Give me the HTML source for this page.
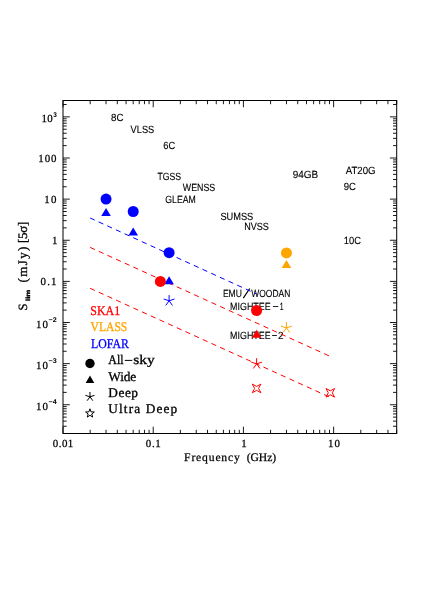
<!DOCTYPE html><html><head><meta charset="utf-8"><title>plot</title><style>html,body{margin:0;padding:0;background:#fff}svg{display:block;will-change:transform;text-rendering:geometricPrecision}text{font-family:"Liberation Sans",sans-serif}.s{font-family:"Liberation Serif",serif}</style></head><body>
<svg width="432" height="611" viewBox="0 0 432 611">
<rect width="432" height="611" fill="#fff"/>
<path d="M63.00 433.50v-6.8M63.00 100.50v6.8M90.16 433.50v-3.7M90.16 100.50v3.7M106.04 433.50v-3.7M106.04 100.50v3.7M117.31 433.50v-3.7M117.31 100.50v3.7M126.05 433.50v-3.7M126.05 100.50v3.7M133.20 433.50v-3.7M133.20 100.50v3.7M139.24 433.50v-3.7M139.24 100.50v3.7M144.47 433.50v-3.7M144.47 100.50v3.7M149.08 433.50v-3.7M149.08 100.50v3.7M153.21 433.50v-6.8M153.21 100.50v6.8M180.37 433.50v-3.7M180.37 100.50v3.7M196.25 433.50v-3.7M196.25 100.50v3.7M207.52 433.50v-3.7M207.52 100.50v3.7M216.26 433.50v-3.7M216.26 100.50v3.7M223.41 433.50v-3.7M223.41 100.50v3.7M229.45 433.50v-3.7M229.45 100.50v3.7M234.68 433.50v-3.7M234.68 100.50v3.7M239.29 433.50v-3.7M239.29 100.50v3.7M243.42 433.50v-6.8M243.42 100.50v6.8M270.58 433.50v-3.7M270.58 100.50v3.7M286.46 433.50v-3.7M286.46 100.50v3.7M297.73 433.50v-3.7M297.73 100.50v3.7M306.47 433.50v-3.7M306.47 100.50v3.7M313.62 433.50v-3.7M313.62 100.50v3.7M319.66 433.50v-3.7M319.66 100.50v3.7M324.89 433.50v-3.7M324.89 100.50v3.7M329.50 433.50v-3.7M329.50 100.50v3.7M333.63 433.50v-6.8M333.63 100.50v6.8M360.79 433.50v-3.7M360.79 100.50v3.7M376.67 433.50v-3.7M376.67 100.50v3.7M387.94 433.50v-3.7M387.94 100.50v3.7M396.68 433.50v-3.7M396.68 100.50v3.7M63.00 433.50h3.7M396.70 433.50h-3.7M63.00 426.26h3.7M396.70 426.26h-3.7M63.00 421.12h3.7M396.70 421.12h-3.7M63.00 417.14h3.7M396.70 417.14h-3.7M63.00 413.88h3.7M396.70 413.88h-3.7M63.00 411.13h3.7M396.70 411.13h-3.7M63.00 408.74h3.7M396.70 408.74h-3.7M63.00 406.64h3.7M396.70 406.64h-3.7M63.00 404.76h6.8M396.70 404.76h-6.8M63.00 392.38h3.7M396.70 392.38h-3.7M63.00 385.14h3.7M396.70 385.14h-3.7M63.00 380.00h3.7M396.70 380.00h-3.7M63.00 376.01h3.7M396.70 376.01h-3.7M63.00 372.75h3.7M396.70 372.75h-3.7M63.00 370.00h3.7M396.70 370.00h-3.7M63.00 367.62h3.7M396.70 367.62h-3.7M63.00 365.51h3.7M396.70 365.51h-3.7M63.00 363.63h6.8M396.70 363.63h-6.8M63.00 351.25h3.7M396.70 351.25h-3.7M63.00 344.01h3.7M396.70 344.01h-3.7M63.00 338.87h3.7M396.70 338.87h-3.7M63.00 334.88h3.7M396.70 334.88h-3.7M63.00 331.63h3.7M396.70 331.63h-3.7M63.00 328.87h3.7M396.70 328.87h-3.7M63.00 326.49h3.7M396.70 326.49h-3.7M63.00 324.39h3.7M396.70 324.39h-3.7M63.00 322.50h6.8M396.70 322.50h-6.8M63.00 310.12h3.7M396.70 310.12h-3.7M63.00 302.88h3.7M396.70 302.88h-3.7M63.00 297.74h3.7M396.70 297.74h-3.7M63.00 293.76h3.7M396.70 293.76h-3.7M63.00 290.50h3.7M396.70 290.50h-3.7M63.00 287.75h3.7M396.70 287.75h-3.7M63.00 285.36h3.7M396.70 285.36h-3.7M63.00 283.26h3.7M396.70 283.26h-3.7M63.00 281.38h6.8M396.70 281.38h-6.8M63.00 269.00h3.7M396.70 269.00h-3.7M63.00 261.75h3.7M396.70 261.75h-3.7M63.00 256.62h3.7M396.70 256.62h-3.7M63.00 252.63h3.7M396.70 252.63h-3.7M63.00 249.37h3.7M396.70 249.37h-3.7M63.00 246.62h3.7M396.70 246.62h-3.7M63.00 244.24h3.7M396.70 244.24h-3.7M63.00 242.13h3.7M396.70 242.13h-3.7M63.00 240.25h6.8M396.70 240.25h-6.8M63.00 227.87h3.7M396.70 227.87h-3.7M63.00 220.63h3.7M396.70 220.63h-3.7M63.00 215.49h3.7M396.70 215.49h-3.7M63.00 211.50h3.7M396.70 211.50h-3.7M63.00 208.25h3.7M396.70 208.25h-3.7M63.00 205.49h3.7M396.70 205.49h-3.7M63.00 203.11h3.7M396.70 203.11h-3.7M63.00 201.00h3.7M396.70 201.00h-3.7M63.00 199.12h6.8M396.70 199.12h-6.8M63.00 186.74h3.7M396.70 186.74h-3.7M63.00 179.50h3.7M396.70 179.50h-3.7M63.00 174.36h3.7M396.70 174.36h-3.7M63.00 170.38h3.7M396.70 170.38h-3.7M63.00 167.12h3.7M396.70 167.12h-3.7M63.00 164.37h3.7M396.70 164.37h-3.7M63.00 161.98h3.7M396.70 161.98h-3.7M63.00 159.88h3.7M396.70 159.88h-3.7M63.00 158.00h6.8M396.70 158.00h-6.8M63.00 145.62h3.7M396.70 145.62h-3.7M63.00 138.37h3.7M396.70 138.37h-3.7M63.00 133.24h3.7M396.70 133.24h-3.7M63.00 129.25h3.7M396.70 129.25h-3.7M63.00 125.99h3.7M396.70 125.99h-3.7M63.00 123.24h3.7M396.70 123.24h-3.7M63.00 120.85h3.7M396.70 120.85h-3.7M63.00 118.75h3.7M396.70 118.75h-3.7M63.00 116.87h6.8M396.70 116.87h-6.8M63.00 104.49h3.7M396.70 104.49h-3.7" stroke="#000" stroke-width="0.9" fill="none"/>
<rect x="63.00" y="100.50" width="333.70" height="333.00" fill="none" stroke="#000" stroke-width="1.0"/>
<text x="111.1" y="120.5" font-size="10.4" stroke="#000" stroke-width="0.12" textLength="12.5" lengthAdjust="spacingAndGlyphs">8C</text>
<text x="130.6" y="133.0" font-size="10.4" stroke="#000" stroke-width="0.12" textLength="23.6" lengthAdjust="spacingAndGlyphs">VLSS</text>
<text x="163.3" y="149.4" font-size="10.4" stroke="#000" stroke-width="0.12" textLength="12.0" lengthAdjust="spacingAndGlyphs">6C</text>
<text x="157.5" y="180.2" font-size="10.4" stroke="#000" stroke-width="0.12" textLength="23.6" lengthAdjust="spacingAndGlyphs">TGSS</text>
<text x="182.8" y="190.7" font-size="10.4" stroke="#000" stroke-width="0.12" textLength="32.4" lengthAdjust="spacingAndGlyphs">WENSS</text>
<text x="165.3" y="203.0" font-size="10.4" stroke="#000" stroke-width="0.12" textLength="30.5" lengthAdjust="spacingAndGlyphs">GLEAM</text>
<text x="292.7" y="178.0" font-size="10.4" stroke="#000" stroke-width="0.12" textLength="25.5" lengthAdjust="spacingAndGlyphs">94GB</text>
<text x="345.7" y="174.0" font-size="10.4" stroke="#000" stroke-width="0.12" textLength="29.8" lengthAdjust="spacingAndGlyphs">AT20G</text>
<text x="343.7" y="190.3" font-size="10.4" stroke="#000" stroke-width="0.12" textLength="12.2" lengthAdjust="spacingAndGlyphs">9C</text>
<text x="343.7" y="244.2" font-size="10.4" stroke="#000" stroke-width="0.12" textLength="17.3" lengthAdjust="spacingAndGlyphs">10C</text>
<text x="220.4" y="219.8" font-size="10.4" stroke="#000" stroke-width="0.12" textLength="32.9" lengthAdjust="spacingAndGlyphs">SUMSS</text>
<text x="244.2" y="229.8" font-size="10.4" stroke="#000" stroke-width="0.12" textLength="24.6" lengthAdjust="spacingAndGlyphs">NVSS</text>
<text x="222.9" y="297.1" font-size="10.4" stroke="#000" stroke-width="0.12" textLength="19.1" lengthAdjust="spacingAndGlyphs">EMU</text>
<line x1="243.3" y1="298.2" x2="249.7" y2="288.5" stroke="#000" stroke-width="1.2"/>
<text x="251.3" y="297.1" font-size="10.4" stroke="#000" stroke-width="0.12" textLength="39.0" lengthAdjust="spacingAndGlyphs">WOODAN</text>
<text x="230.1" y="310.0" font-size="10.4" stroke="#000" stroke-width="0.12" textLength="40.5" lengthAdjust="spacingAndGlyphs">MIGHTEE</text>
<text x="272.4" y="310.0" font-size="10.4" stroke="#000" stroke-width="0.12" textLength="6.2" lengthAdjust="spacingAndGlyphs">−</text>
<text x="279.8" y="310.0" font-size="10.4" stroke="#000" stroke-width="0.12" textLength="3.8" lengthAdjust="spacingAndGlyphs">1</text>
<text x="230.1" y="338.7" font-size="10.4" stroke="#000" stroke-width="0.12" textLength="40.5" lengthAdjust="spacingAndGlyphs">MIGHTEE</text>
<text x="271.8" y="338.7" font-size="10.4" stroke="#000" stroke-width="0.12" textLength="5.6" lengthAdjust="spacingAndGlyphs">−</text>
<text x="278.0" y="338.7" font-size="10.4" stroke="#000" stroke-width="0.12" textLength="5.6" lengthAdjust="spacingAndGlyphs">2</text>
<line x1="90.1" y1="218.0" x2="256.6" y2="294.0" stroke="#0000ff" stroke-width="1" stroke-dasharray="5.2 4.32" stroke-dashoffset="0.2"/>
<line x1="90.1" y1="247.4" x2="329.3" y2="356.0" stroke="#ff0000" stroke-width="1" stroke-dasharray="5.2 4.32" stroke-dashoffset="0"/>
<line x1="90.1" y1="288.3" x2="329.0" y2="396.8" stroke="#ff0000" stroke-width="1" stroke-dasharray="5.2 4.32" stroke-dashoffset="0"/>
<circle cx="106.04" cy="199.12" r="5.5" fill="#0000ff"/>
<path d="M101.24 216.10L110.84 216.10L106.04 208.10Z" fill="#0000ff"/>
<circle cx="133.20" cy="211.50" r="5.5" fill="#0000ff"/>
<path d="M128.40 235.60L138.00 235.60L133.20 227.60Z" fill="#0000ff"/>
<circle cx="169.10" cy="252.63" r="5.5" fill="#0000ff"/>
<path d="M164.30 284.20L173.90 284.20L169.10 276.20Z" fill="#0000ff"/>
<path d="M169.10 300.80L169.10 295.10M169.10 300.80L174.52 299.04M169.10 300.80L172.45 305.41M169.10 300.80L165.74 305.41M169.10 300.80L163.67 299.04" stroke="#0000ff" stroke-width="1" fill="none"/>
<circle cx="160.35" cy="281.38" r="5.5" fill="#ff0000"/>
<circle cx="256.60" cy="310.50" r="5.5" fill="#ff0000"/>
<path d="M251.80 337.80L261.40 337.80L256.60 329.80Z" fill="#ff0000"/>
<path d="M256.60 363.90L256.60 358.20M256.60 363.90L262.02 362.14M256.60 363.90L259.95 368.51M256.60 363.90L253.25 368.51M256.60 363.90L251.18 362.14" stroke="#ff0000" stroke-width="1" fill="none"/>
<polygon points="260.92,392.71 256.60,390.40 252.29,392.71 254.60,388.40 252.29,384.09 256.60,386.40 260.92,384.09 258.60,388.40" stroke="#ff0000" stroke-width="1" fill="none"/>
<polygon points="334.61,397.11 330.30,394.80 325.99,397.11 328.30,392.80 325.99,388.49 330.30,390.80 334.61,388.49 332.30,392.80" stroke="#ff0000" stroke-width="1" fill="none"/>
<circle cx="286.46" cy="252.90" r="5.5" fill="#ffa500"/>
<path d="M281.66 268.00L291.26 268.00L286.46 260.00Z" fill="#ffa500"/>
<path d="M286.46 327.90L286.46 322.20M286.46 327.90L291.88 326.14M286.46 327.90L289.81 332.51M286.46 327.90L283.11 332.51M286.46 327.90L281.04 326.14" stroke="#ffa500" stroke-width="1" fill="none"/>
<circle cx="89.97" cy="363.50" r="4.7" fill="#000"/>
<path d="M85.67 382.90L94.27 382.90L89.97 375.40Z" fill="#000"/>
<path d="M89.97 396.80L89.97 392.00M89.97 396.80L94.54 395.32M89.97 396.80L92.79 400.68M89.97 396.80L87.15 400.68M89.97 396.80L85.40 395.32" stroke="#000" stroke-width="1" fill="none"/>
<polygon points="89.97,408.80 91.09,411.86 94.34,411.98 91.78,413.99 92.67,417.12 89.97,415.30 87.27,417.12 88.16,413.99 85.60,411.98 88.85,411.86" stroke="#000" stroke-width="1" fill="none"/>
<text class="s" x="90.3" y="314.9" font-size="13.2" fill="#ff0000" stroke="#ff0000" stroke-width="0.3" textLength="29.9" lengthAdjust="spacingAndGlyphs">SKA1</text>
<text class="s" x="90.6" y="331.2" font-size="13.2" fill="#ffa500" stroke="#ffa500" stroke-width="0.3" textLength="36.7" lengthAdjust="spacingAndGlyphs">VLASS</text>
<text class="s" x="91.0" y="347.7" font-size="13.2" fill="#0000ff" stroke="#0000ff" stroke-width="0.3" textLength="37.8" lengthAdjust="spacingAndGlyphs">LOFAR</text>
<text class="s" x="108.3" y="364.3" font-size="13.3" fill="#000" stroke="#000" stroke-width="0.3" textLength="15.2" lengthAdjust="spacingAndGlyphs">All</text>
<line x1="124.8" y1="360.4" x2="132.3" y2="360.4" stroke="#000" stroke-width="1.0"/>
<text class="s" x="133.2" y="364.3" font-size="13.3" fill="#000" stroke="#000" stroke-width="0.3" textLength="21.6" lengthAdjust="spacingAndGlyphs">sky</text>
<text class="s" x="108.3" y="380.7" font-size="13.3" fill="#000" stroke="#000" stroke-width="0.3" textLength="27.8" lengthAdjust="spacing">Wide</text>
<text class="s" x="108.3" y="397.2" font-size="13.3" fill="#000" stroke="#000" stroke-width="0.3" textLength="29.7" lengthAdjust="spacing">Deep</text>
<text class="s" x="108.3" y="413.4" font-size="13.3" fill="#000" stroke="#000" stroke-width="0.3" textLength="68.9" lengthAdjust="spacing">Ultra Deep</text>
<text class="s" x="184.1" y="460.9" font-size="11.6" fill="#000" stroke="#000" stroke-width="0.25" textLength="55.7" lengthAdjust="spacing">Frequency</text>
<text class="s" x="246.7" y="460.9" font-size="11.6" fill="#000" stroke="#000" stroke-width="0.25" textLength="29.5" lengthAdjust="spacing">(GHz)</text>
<text class="s" x="52.70" y="446.8" font-size="10.9" stroke="#000" stroke-width="0.25" textLength="20.6" lengthAdjust="spacing">0.01</text>
<text class="s" x="145.80" y="446.8" font-size="10.9" stroke="#000" stroke-width="0.25" textLength="15.0" lengthAdjust="spacing">0.1</text>
<text class="s" x="241.35" y="446.8" font-size="10.9" stroke="#000" stroke-width="0.25" textLength="4.5" lengthAdjust="spacing">1</text>
<text class="s" x="327.90" y="446.8" font-size="10.9" stroke="#000" stroke-width="0.25" textLength="12.0" lengthAdjust="spacing">10</text>
<text class="s" x="38.30" y="161.80" font-size="10.9" stroke="#000" stroke-width="0.25" textLength="18.2" lengthAdjust="spacing">100</text>
<text class="s" x="44.30" y="202.92" font-size="10.9" stroke="#000" stroke-width="0.25" textLength="12.2" lengthAdjust="spacing">10</text>
<text class="s" x="51.90" y="244.35" font-size="10.9" stroke="#000" stroke-width="0.25" textLength="4.6" lengthAdjust="spacing">1</text>
<text class="s" x="40.50" y="285.18" font-size="10.9" stroke="#000" stroke-width="0.25" textLength="16.0" lengthAdjust="spacing">0.1</text>
<text class="s" x="41.40" y="122.07" font-size="10.9" stroke="#000" stroke-width="0.25" textLength="11.2" lengthAdjust="spacing">10</text>
<text x="53.20" y="117.17" font-size="6.8" font-weight="bold" textLength="3.6" lengthAdjust="spacingAndGlyphs">3</text>
<text class="s" x="36.00" y="327.70" font-size="10.9" stroke="#000" stroke-width="0.25" textLength="12.0" lengthAdjust="spacing">10</text>
<text x="48.60" y="322.00" font-size="6.8" font-weight="bold" textLength="8.2" lengthAdjust="spacingAndGlyphs">−2</text>
<text class="s" x="36.00" y="368.83" font-size="10.9" stroke="#000" stroke-width="0.25" textLength="12.0" lengthAdjust="spacing">10</text>
<text x="48.60" y="363.13" font-size="6.8" font-weight="bold" textLength="8.2" lengthAdjust="spacingAndGlyphs">−3</text>
<text class="s" x="36.00" y="409.96" font-size="10.9" stroke="#000" stroke-width="0.25" textLength="12.0" lengthAdjust="spacing">10</text>
<text x="48.60" y="404.26" font-size="6.8" font-weight="bold" textLength="8.2" lengthAdjust="spacingAndGlyphs">−4</text>
<g transform="translate(26.6,311.2) rotate(-90)">
<text class="s" x="0.6" y="0" font-size="12.6" stroke="#000" stroke-width="0.3">S</text>
<text x="10.2" y="3.0" font-size="6" stroke="#000" stroke-width="0.35" textLength="11.4" lengthAdjust="spacingAndGlyphs" font-weight="bold">lim</text>
<text class="s" x="28.6" y="0" font-size="13" stroke="#000" stroke-width="0.3" textLength="36" lengthAdjust="spacing">(mJy)</text>
<text class="s" x="68.2" y="0" font-size="13" stroke="#000" stroke-width="0.3" textLength="21.4" lengthAdjust="spacing">[5σ]</text>
</g>
</svg></body></html>
